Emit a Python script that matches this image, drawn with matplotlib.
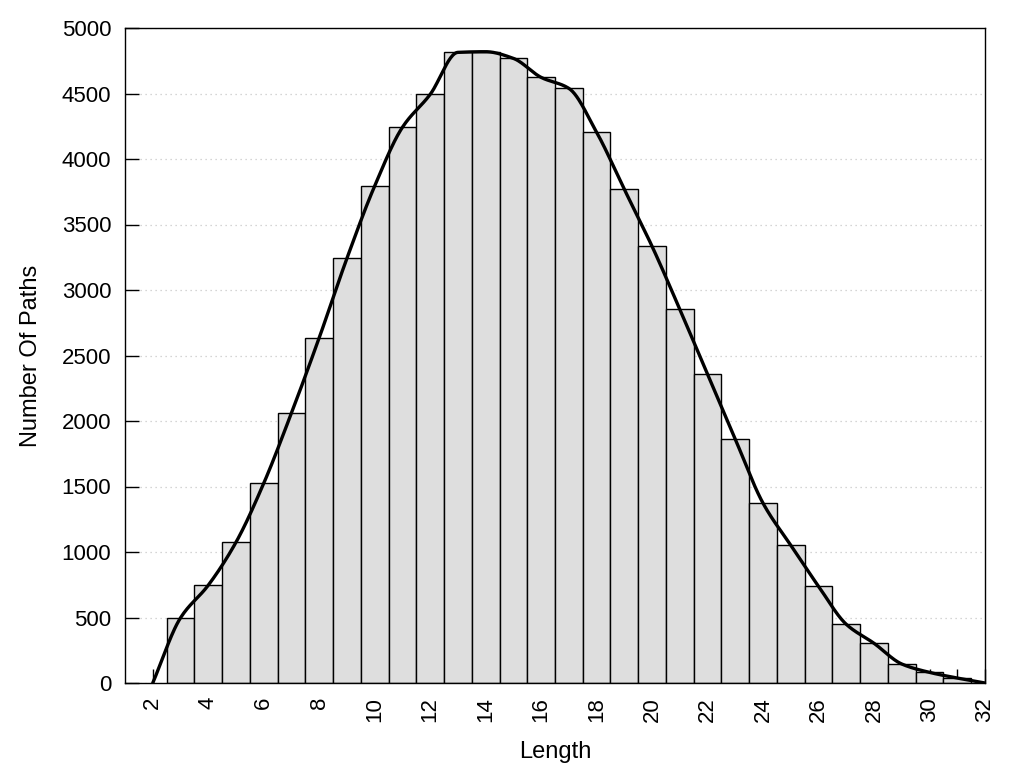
import numpy as np
import matplotlib
matplotlib.use("Agg")
import matplotlib.pyplot as plt

# path length histogram
lengths = [2, 3, 4, 5, 6, 7, 8, 9, 10, 11, 12, 13, 14, 15, 16, 17,
           18, 19, 20, 21, 22, 23, 24, 25, 26, 27, 28, 29, 30, 31, 32]
counts = [0, 497, 746, 1074, 1524, 2061, 2635, 3242, 3794, 4242, 4493, 4814, 4819, 4768, 4623, 4539,
          4204, 3768, 3333, 2852, 2356, 1860, 1372, 1051, 738, 448, 303, 145, 81, 38, 0]
xticks_labels = list(range(2, 33, 2))


def monotone_spline(x, y, n=800):
    # Fritsch-Carlson monotone cubic, same idea as gnuplot "smooth mcsplines"
    x = np.asarray(x, float)
    y = np.asarray(y, float)
    h = np.diff(x)
    d = np.diff(y) / h
    m = np.zeros_like(y)
    m[0], m[-1] = d[0], d[-1]
    for i in range(1, len(x) - 1):
        if d[i - 1] * d[i] <= 0:
            m[i] = 0.0
        else:
            w1 = 2 * h[i] + h[i - 1]
            w2 = h[i] + 2 * h[i - 1]
            m[i] = (w1 + w2) / (w1 / d[i - 1] + w2 / d[i])
    xs = np.linspace(x[0], x[-1], n)
    idx = np.clip(np.searchsorted(x, xs) - 1, 0, len(x) - 2)
    hh = h[idx]
    t = (xs - x[idx]) / hh
    h00 = 2 * t ** 3 - 3 * t ** 2 + 1
    h10 = t ** 3 - 2 * t ** 2 + t
    h01 = -2 * t ** 3 + 3 * t ** 2
    h11 = t ** 3 - t ** 2
    ys = h00 * y[idx] + h10 * hh * m[idx] + h01 * y[idx + 1] + h11 * hh * m[idx + 1]
    return xs, ys


plt.rcParams['font.family'] = ['Liberation Sans', 'DejaVu Sans']

fig = plt.figure(figsize=(10.24, 7.68), dpi=100)
ax = fig.add_axes([125 / 1024, 1 - 683 / 768, 860 / 1024, 655 / 768])

bar_x = [l for l, c in zip(lengths, counts) if c > 0]
bar_y = [c for c in counts if c > 0]
ax.bar(bar_x, bar_y, width=1.0, color="#dedede", edgecolor="black", linewidth=1.0, zorder=2)

sx, sy = monotone_spline(lengths, counts)
ax.plot(sx, sy, color="black", linewidth=2.4, zorder=3, solid_capstyle="round")

ax.set_xlim(1, 32)
ax.set_ylim(0, 5000)
ax.set_xticks(range(2, 33))
ax.set_xticklabels([str(v) if v in xticks_labels else "" for v in range(2, 33)], rotation=90)
ax.set_yticks(range(0, 5001, 500))
ax.tick_params(axis="both", direction="in", length=10, width=1.0, labelsize=16)
ax.tick_params(axis="x", pad=10)
ax.tick_params(axis="y", pad=10)
ax.set_axisbelow(True)
ax.yaxis.grid(True, linestyle=(0, (1, 3)), color="#c8c8c8", linewidth=0.9)

for sp in ax.spines.values():
    sp.set_linewidth(1.0)
    sp.set_zorder(4)

ax.set_xlabel("Length", fontsize=17, labelpad=14)
ax.set_ylabel("Number Of Paths", fontsize=17, labelpad=14)

fig.savefig("out.png", dpi=100)
